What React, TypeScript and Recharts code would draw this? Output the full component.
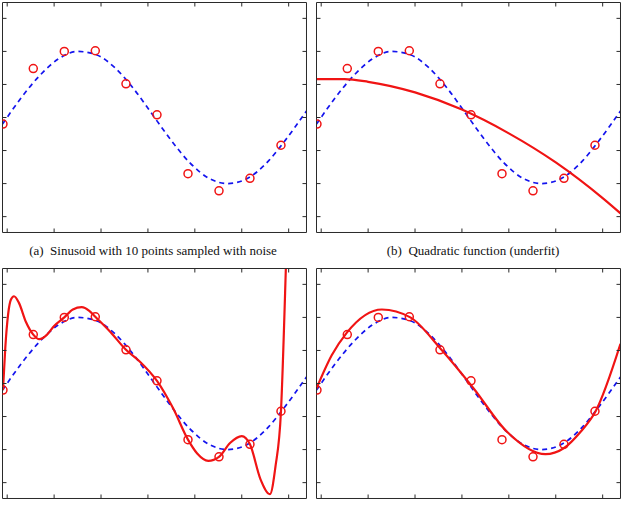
import React from 'react';
import { ComposedChart, Line, XAxis, YAxis } from 'recharts';

// Axis layout shared by all four panels
const X_RANGE: [number, number] = [-0.1, 6.38];
const Y_RANGE: [number, number] = [-1.74, 1.74];
const X_TICKS = [0, 1, 2, 3, 4, 5, 6];
const Y_TICKS = [-1.5, -1, -0.5, 0, 0.5, 1, 1.5];

// Noisy samples of the sinusoid (10 points)
const sampleT = [-0.09, 0.556, 1.217, 1.878, 2.532, 3.193, 3.854, 4.515, 5.175, 5.836];
const sampleV = [-0.1, 0.74, 1.0, 1.01, 0.51, 0.04, -0.85, -1.11, -0.92, -0.42];

// Underlying sinusoid (dashed)
const sineT = [-0.1, 0.3, 0.7, 1.1, 1.5, 1.9, 2.3, 2.7, 3.1, 3.5, 3.9, 4.3, 4.7, 5.1, 5.5, 5.9, 6.38];
const sineV = [-0.1, 0.3, 0.64, 0.89, 1.0, 0.95, 0.75, 0.43, 0.04, -0.35, -0.69, -0.92, -1.0, -0.93, -0.71, -0.37, 0.1];

// Quadratic fit
const quadT = [-0.1, 0.5, 1.0, 2.0, 3.0, 4.0, 5.0, 6.0, 6.38];
const quadV = [0.58, 0.58, 0.54, 0.38, 0.12, -0.24, -0.68, -1.22, -1.45];

// 9th degree polynomial fit
const nineT = [-0.09, -0.04, 0.02, 0.08, 0.145, 0.25, 0.4, 0.556, 0.685, 0.85, 1.0, 1.217, 1.4, 1.588, 1.75, 1.878, 2.2, 2.532, 2.83, 3.193, 3.54, 3.854, 4.05, 4.286, 4.515, 4.75, 5.0, 5.175, 5.4, 5.6, 5.72, 5.836, 5.94, 6.0];
const nineV = [-0.1, 0.55, 1.05, 1.27, 1.32, 1.22, 0.93, 0.74, 0.67, 0.74, 0.87, 1.0, 1.12, 1.155, 1.1, 1.01, 0.78, 0.51, 0.33, 0.04, -0.38, -0.85, -1.06, -1.17, -1.11, -0.9, -0.795, -0.92, -1.45, -1.675, -1.25, -0.42, 1.74, 3.2];

// Cubic fit
const cubicT = [-0.1, 0.227, 0.547, 1.294, 1.9, 2.54, 3.25, 3.96, 4.78, 5.17, 5.53, 5.85, 6.38];
const cubicV = [-0.075, 0.43, 0.77, 1.12, 1.0, 0.53, -0.075, -0.73, -1.07, -0.98, -0.73, -0.42, 0.6];

const FRAME = '#2a2a2a';
const RED = '#f01414';
const BLUE = '#1414ee';
const TICK_LEN = 4;
const THIN = 0.01;

type Pt = { t: number; v: number };
const zip = (ts: number[], vs: number[]): Pt[] => ts.map((t, i) => ({ t, v: vs[i] }));

const samples = zip(sampleT, sampleV);
const sine = zip(sineT, sineV);
const quad = zip(quadT, quadV);
const nine = zip(nineT, nineV);
const cubic = zip(cubicT, cubicV);

const BottomTick = (p: any) => (
  <line x1={p.x} y1={p.y} x2={p.x} y2={p.y - TICK_LEN} stroke={FRAME} strokeWidth={1} />
);
const TopTick = (p: any) => (
  <line x1={p.x} y1={p.y} x2={p.x} y2={p.y + TICK_LEN} stroke={FRAME} strokeWidth={1} />
);
const LeftTick = (p: any) => (
  <line x1={p.x} y1={p.y} x2={p.x + TICK_LEN} y2={p.y} stroke={FRAME} strokeWidth={1} />
);
const RightTick = (p: any) => (
  <line x1={p.x} y1={p.y} x2={p.x - TICK_LEN} y2={p.y} stroke={FRAME} strokeWidth={1} />
);

type PanelProps = { left: number; top: number; fit?: Pt[] };

function Panel({ left, top, fit }: PanelProps) {
  const m = 1.5;
  return (
    <div style={{ position: 'absolute', left, top }}>
      <ComposedChart width={307} height={233} margin={{ top: m, right: m, bottom: m, left: m }}>
        <XAxis
          xAxisId="b" orientation="bottom" type="number" dataKey="t"
          domain={X_RANGE} ticks={X_TICKS} allowDataOverflow interval={0}
          height={THIN} tickSize={0} tickMargin={0} tickLine={false}
          axisLine={{ stroke: FRAME, strokeWidth: 1 }} tick={BottomTick}
        />
        <XAxis
          xAxisId="t" orientation="top" type="number" dataKey="t"
          domain={X_RANGE} ticks={X_TICKS} allowDataOverflow interval={0}
          height={THIN} tickSize={0} tickMargin={0} tickLine={false}
          axisLine={{ stroke: FRAME, strokeWidth: 1 }} tick={TopTick}
        />
        <YAxis
          yAxisId="l" orientation="left" type="number"
          domain={Y_RANGE} ticks={Y_TICKS} allowDataOverflow interval={0}
          width={THIN} tickSize={0} tickMargin={0} tickLine={false}
          axisLine={{ stroke: FRAME, strokeWidth: 1 }} tick={LeftTick}
        />
        <YAxis
          yAxisId="r" orientation="right" type="number"
          domain={Y_RANGE} ticks={Y_TICKS} allowDataOverflow interval={0}
          width={THIN} tickSize={0} tickMargin={0} tickLine={false}
          axisLine={{ stroke: FRAME, strokeWidth: 1 }} tick={RightTick}
        />
        <Line
          data={sine} dataKey="v" xAxisId="b" yAxisId="l" type="monotone"
          stroke={BLUE} strokeWidth={1.7} strokeDasharray="5 4" dot={false}
          isAnimationActive={false}
        />
        {fit && (
          <Line
            data={fit} dataKey="v" xAxisId="b" yAxisId="l" type="monotone"
            stroke={RED} strokeWidth={2.2} dot={false} isAnimationActive={false}
          />
        )}
        <Line
          data={samples} dataKey="v" xAxisId="b" yAxisId="l"
          stroke="none" strokeWidth={0}
          dot={{ r: 4, fill: 'none', stroke: RED, strokeWidth: 1.5 }}
          isAnimationActive={false}
        />
      </ComposedChart>
    </div>
  );
}

const captionStyle: React.CSSProperties = {
  position: 'absolute',
  width: 320,
  textAlign: 'center',
  fontFamily: '"Liberation Serif", "DejaVu Serif", serif',
  fontSize: 13,
  lineHeight: '13px',
  whiteSpace: 'pre',
  color: '#111',
};

export default function App() {
  return (
    <div style={{ position: 'absolute', left: 0, top: 0, width: 627, height: 508, background: '#fff' }}>
      <Panel left={1} top={1} />
      <Panel left={315} top={1} fit={quad} />
      <Panel left={1} top={267} fit={nine} />
      <Panel left={315} top={267} fit={cubic} />
      <div style={{ ...captionStyle, left: 153 - 160, top: 244 }}>
        {'(a)  Sinusoid with 10 points sampled with noise'}
      </div>
      <div style={{ ...captionStyle, left: 473 - 160, top: 244 }}>
        {'(b)  Quadratic function (underfit)'}
      </div>
    </div>
  );
}
